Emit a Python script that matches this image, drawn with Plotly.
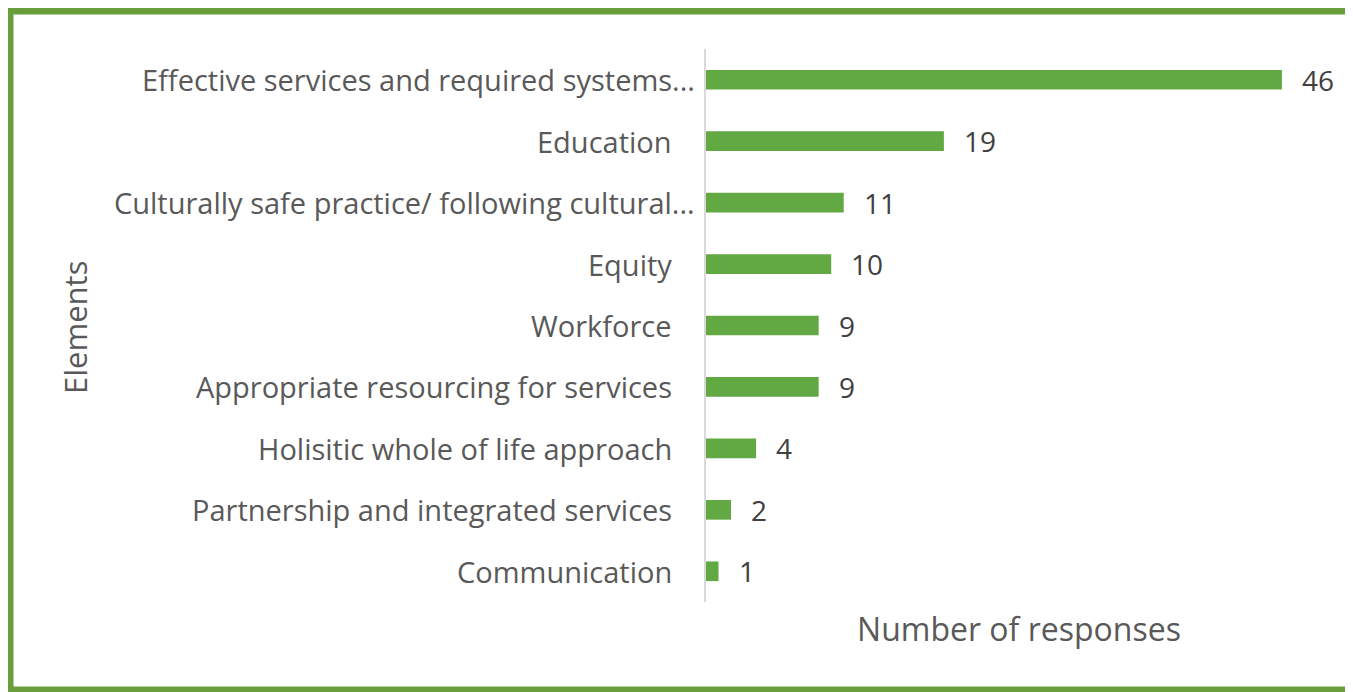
import plotly.graph_objects as go

categories = [
    "Effective services and required systems...",
    "Education",
    "Culturally safe practice/ following cultural...",
    "Equity",
    "Workforce",
    "Appropriate resourcing for services",
    "Holisitic whole of life approach",
    "Partnership and integrated services",
    "Communication",
]
values = [46, 19, 11, 10, 9, 9, 4, 2, 1]
x_title = "Number of responses"
y_title = "Elements"

# page has an 8px body margin, so the figure is sized to fill the rest
W, H = 1345, 684
L, R, T, B = 698, 21, 41, 90
BAR = "#62a843"
FRAME = "#6a9e3c"
TXT = "#595959"
FONT = "Open Sans"

fig = go.Figure(go.Bar(
    x=values, y=categories, orientation="h",
    marker=dict(color=BAR, line=dict(width=0)),
    width=0.32, hoverinfo="skip",
))

ann = []
for c, v in zip(categories, values):
    ann.append(dict(x=v, y=c, xref="x", yref="y", text=str(v), showarrow=False,
                    xanchor="left", xshift=18,
                    font=dict(family=FONT, size=28, color="#404040")))
    trunc = c.endswith("...")
    ann.append(dict(x=0, y=c, xref="x", yref="y", text=c, showarrow=False,
                    xanchor="right", xshift=-9 if trunc else -32,
                    font=dict(family=FONT, size=29, color=TXT)))

pw = W - L - R
ph = H - T - B


def px(xp):
    return (xp - L) / pw


def py(yp):
    return (H - B - yp) / ph


ann.append(dict(xref="paper", yref="paper", x=px(67), y=py(320),
                text=y_title, textangle=-90, showarrow=False,
                xanchor="center", yanchor="middle",
                font=dict(family=FONT, size=31, color=TXT)))

fig.update_layout(
    width=W, height=H,
    margin=dict(l=L, r=R, t=T, b=B),
    paper_bgcolor="white", plot_bgcolor="white",
    showlegend=False,
    xaxis=dict(range=[0, 50], showticklabels=False, showgrid=False, zeroline=False,
               showline=False, fixedrange=True,
               title=dict(text=x_title, standoff=16,
                          font=dict(family=FONT, size=32, color=TXT))),
    yaxis=dict(autorange=False, range=[8.5, -0.5], showticklabels=False,
               showgrid=False, zeroline=False, showline=True,
               linecolor="#d9d9d9", linewidth=2, ticks=""),
    annotations=ann,
    shapes=[dict(type="rect", xref="paper", yref="paper",
                 x0=px(2), x1=px(1400), y0=py(3), y1=py(682),
                 line=dict(color=FRAME, width=7), layer="above")],
)

fig.write_html("out.html")
